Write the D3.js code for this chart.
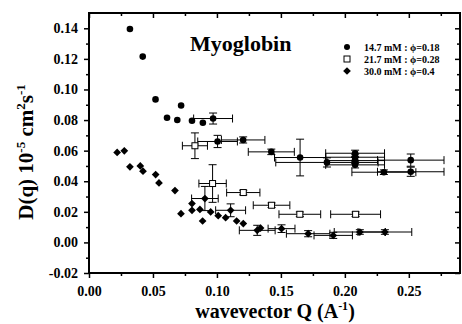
<!DOCTYPE html>
<html>
<head>
<meta charset="utf-8">
<script src="https://cdn.jsdelivr.net/npm/d3@7"></script>
<style>
body { margin: 0; background: #fff; }
text { font-family: "Liberation Serif", "Times New Roman", serif; font-weight: bold; fill: #000; }
</style>
</head>
<body>
<div class="chart"></div>
<script>

// 14.7 mM : phi=0.18 (filled circles)
var circQ    = [0.032, 0.042, 0.052, 0.061, 0.069, 0.072, 0.0805, 0.089, 0.097, 0.1005, 0.1205, 0.1425, 0.165, 0.186, 0.208, 0.208, 0.208, 0.208, 0.2305, 0.2515, 0.2515]
var circD    = [0.1395, 0.1215, 0.0935, 0.0815, 0.080, 0.0895, 0.0795, 0.0782, 0.081, 0.066, 0.067, 0.0592, 0.0555, 0.0523, 0.0583, 0.0557, 0.0535, 0.0507, 0.0459, 0.0538, 0.0462]
var circQErr = [0, 0, 0, 0, 0, 0, 0, 0, 0.0152, 0.0155, 0.017, 0.018, 0.02, 0.04, 0.023, 0.023, 0.023, 0.023, 0.025, 0.026, 0.026]
var circDErr = [0, 0, 0, 0, 0, 0, 0, 0, 0.0036, 0.004, 0.002, 0.0018, 0.012, 0.003, 0.002, 0.002, 0.002, 0.002, 0.0015, 0.004, 0.003]

// 21.7 mM : phi=0.28 (open squares)
var sqQ    = [0.0828, 0.0966, 0.1206, 0.1427, 0.1648, 0.2084]
var sqD    = [0.0632, 0.0385, 0.0326, 0.0243, 0.0184, 0.0184]
var sqQErr = [0.0098, 0.0107, 0.013, 0.0143, 0.0163, 0.0195]
var sqDErr = [0.0084, 0.0123, 0.0015, 0.0015, 0.0015, 0.0015]

// 30.0 mM : phi=0.4 (filled diamonds)
var diaQ    = [0.022, 0.0276, 0.032, 0.0401, 0.0422, 0.0521, 0.0547, 0.0672, 0.0719, 0.0805, 0.0805, 0.0867, 0.0888, 0.0906, 0.0951, 0.101, 0.1068, 0.1107, 0.1154, 0.1206, 0.1315, 0.1341, 0.1505, 0.1713, 0.1909, 0.2117, 0.2313]
var diaD    = [0.0588, 0.0599, 0.0494, 0.050, 0.0466, 0.0444, 0.0389, 0.0339, 0.0188, 0.0254, 0.021, 0.0216, 0.014, 0.0287, 0.0199, 0.0175, 0.0162, 0.021, 0.014, 0.0123, 0.0079, 0.0094, 0.009, 0.0057, 0.0046, 0.0068, 0.0068]
var diaQErr = [0, 0, 0, 0, 0, 0, 0, 0, 0, 0, 0, 0, 0, 0.0104, 0, 0, 0, 0.0117, 0, 0, 0.014, 0, 0.0105, 0.017, 0.015, 0.02, 0.021]
var diaDErr = [0, 0, 0, 0, 0, 0, 0, 0, 0, 0, 0, 0, 0, 0.0079, 0, 0, 0, 0.0042, 0, 0, 0.0033, 0, 0.0025, 0.002, 0.002, 0.0015, 0.0015]

var legendLabels = ['14.7 mM : \u03D5=0.18', '21.7 mM : \u03D5=0.28', '30.0 mM : \u03D5=0.4']

var xMajor = [0, 0.05, 0.10, 0.15, 0.20, 0.25]
var xMinor = [0.025, 0.075, 0.125, 0.175, 0.225, 0.275]
var yMajor = [-0.02, 0, 0.02, 0.04, 0.06, 0.08, 0.10, 0.12, 0.14]
var yMinor = [-0.01, 0.01, 0.03, 0.05, 0.07, 0.09, 0.11, 0.13]


function makeRows(q, d, qe, de) {
    var rows = []
    for (var i = 0; i < q.length; i++) {
        rows.push({q: q[i], d: d[i], qe: qe[i], de: de[i]})
    }
    return rows
}

var circles  = makeRows(circQ, circD, circQErr, circDErr)
var squares  = makeRows(sqQ, sqD, sqQErr, sqDErr)
var diamonds = makeRows(diaQ, diaD, diaQErr, diaDErr)

// plot box (window.top is reserved, so use other names)
var pL = 89, pR = 460, pT = 13, pB = 273
var serif = '"Liberation Serif", "Times New Roman", serif'

var svg = d3.select('.chart')
    .append('svg')
    .attr('width', 462)
    .attr('height', 324)

var x = d3.scaleLinear().domain([0, 0.29]).range([pL, pR])
var y = d3.scaleLinear().domain([-0.02, 0.15]).range([pB, pT])

var fmt = function(d) { return d.toFixed(2) }

function styleAxis(g) {
    g.select('.domain').remove()
    g.attr('font-family', serif).attr('font-size', 14).attr('font-weight', 'bold')
    g.selectAll('line').attr('stroke', '#000').attr('stroke-width', 1.5)
    g.selectAll('text')
        .attr('fill', '#000')
        .style('font-family', serif)
        .style('font-weight', 'bold')
        .style('font-size', '14px')
}

// bottom axis, ticks outward
svg.append('g').attr('transform', 'translate(0,' + pB + ')')
    .call(d3.axisBottom(x).tickValues(xMajor).tickSize(5).tickPadding(8).tickFormat(fmt))
    .call(styleAxis)
svg.append('g').attr('transform', 'translate(0,' + pB + ')')
    .call(d3.axisBottom(x).tickValues(xMinor).tickSize(3).tickFormat(''))
    .call(styleAxis)

// left axis, ticks outward
svg.append('g').attr('transform', 'translate(' + pL + ',0)')
    .call(d3.axisLeft(y).tickValues(yMajor).tickSize(5).tickPadding(6).tickFormat(fmt))
    .call(styleAxis)
svg.append('g').attr('transform', 'translate(' + pL + ',0)')
    .call(d3.axisLeft(y).tickValues(yMinor).tickSize(3).tickFormat(''))
    .call(styleAxis)

// top and right axes, ticks inward
svg.append('g').attr('transform', 'translate(0,' + pT + ')')
    .call(d3.axisTop(x).tickValues(xMajor).tickSize(-5).tickFormat(''))
    .call(styleAxis)
svg.append('g').attr('transform', 'translate(0,' + pT + ')')
    .call(d3.axisTop(x).tickValues(xMinor).tickSize(-3).tickFormat(''))
    .call(styleAxis)
svg.append('g').attr('transform', 'translate(' + pR + ',0)')
    .call(d3.axisRight(y).tickValues(yMajor).tickSize(-5).tickFormat(''))
    .call(styleAxis)
svg.append('g').attr('transform', 'translate(' + pR + ',0)')
    .call(d3.axisRight(y).tickValues(yMinor).tickSize(-3).tickFormat(''))
    .call(styleAxis)

// frame
svg.append('rect')
    .attr('x', pL).attr('y', pT)
    .attr('width', pR - pL).attr('height', pB - pT)
    .attr('fill', 'none').attr('stroke', '#000').attr('stroke-width', 2)


function drawErrors(data) {
    var g = svg.append('g').attr('stroke', '#000').attr('stroke-width', 1)
    var cap = 4
    data.forEach(function(d) {
        if (d.qe > 0) {
            var x0 = x(d.q - d.qe), x1 = x(d.q + d.qe), yy = y(d.d)
            g.append('line').attr('x1', x0).attr('x2', x1).attr('y1', yy).attr('y2', yy)
            g.append('line').attr('x1', x0).attr('x2', x0).attr('y1', yy - cap).attr('y2', yy + cap)
            g.append('line').attr('x1', x1).attr('x2', x1).attr('y1', yy - cap).attr('y2', yy + cap)
        }
        if (d.de > 0) {
            var y0 = y(d.d - d.de), y1 = y(d.d + d.de), xx = x(d.q)
            g.append('line').attr('x1', xx).attr('x2', xx).attr('y1', y0).attr('y2', y1)
            g.append('line').attr('x1', xx - cap).attr('x2', xx + cap).attr('y1', y0).attr('y2', y0)
            g.append('line').attr('x1', xx - cap).attr('x2', xx + cap).attr('y1', y1).attr('y2', y1)
        }
    })
}

drawErrors(circles)
drawErrors(squares)
drawErrors(diamonds)

var diamondPath = d3.symbol().type(d3.symbolSquare).size(30)

svg.append('g').selectAll('circle')
    .data(circles)
    .enter()
    .append('circle')
    .attr('cx', function(d) { return x(d.q) })
    .attr('cy', function(d) { return y(d.d) })
    .attr('r', 3.3)
    .attr('fill', '#000')

svg.append('g').selectAll('rect')
    .data(squares)
    .enter()
    .append('rect')
    .attr('x', function(d) { return x(d.q) - 3 })
    .attr('y', function(d) { return y(d.d) - 3 })
    .attr('width', 6)
    .attr('height', 6)
    .attr('fill', '#fff')
    .attr('stroke', '#000')
    .attr('stroke-width', 1)

svg.append('g').selectAll('path')
    .data(diamonds)
    .enter()
    .append('path')
    .attr('d', diamondPath)
    .attr('transform', function(d) { return 'translate(' + x(d.q) + ',' + y(d.d) + ') rotate(45)' })
    .attr('fill', '#000')


// title
svg.append('text')
    .attr('x', 190)
    .attr('y', 51)
    .style('font-size', '22px')
    .text('Myoglobin')

// legend
var legend = svg.append('g').selectAll('g')
    .data(legendLabels)
    .enter()
    .append('g')
    .attr('transform', function(d, i) { return 'translate(347,' + (47 + i * 12) + ')' })

legend.append('text')
    .attr('x', 17)
    .attr('dy', '.35em')
    .style('font-size', '10px')
    .text(function(d) { return d })

legend.filter(function(d, i) { return i == 0 })
    .append('circle').attr('r', 3).attr('fill', '#000')
legend.filter(function(d, i) { return i == 1 })
    .append('rect').attr('x', -3).attr('y', -3).attr('width', 6).attr('height', 6)
    .attr('fill', '#fff').attr('stroke', '#000')
legend.filter(function(d, i) { return i == 2 })
    .append('path').attr('d', diamondPath).attr('transform', 'rotate(45)').attr('fill', '#000')

// axis titles
var xt = svg.append('text')
    .attr('x', 275)
    .attr('y', 318)
    .attr('text-anchor', 'middle')
    .style('font-size', '20px')
xt.append('tspan').text('wavevector Q (A')
xt.append('tspan').attr('dy', -8).style('font-size', '12px').text('-1')
xt.append('tspan').attr('dy', 8).text(')')

var yt = svg.append('text')
    .attr('transform', 'translate(33,152) rotate(-90)')
    .attr('text-anchor', 'middle')
    .style('font-size', '21px')
yt.append('tspan').text('D(q) 10')
yt.append('tspan').attr('dy', -8).style('font-size', '13px').text('-5')
yt.append('tspan').attr('dy', 8).text(' cm')
yt.append('tspan').attr('dy', -8).style('font-size', '13px').text('2')
yt.append('tspan').attr('dy', 8).text('s')
yt.append('tspan').attr('dy', -8).style('font-size', '13px').text('-1')

</script>
</body>
</html>
